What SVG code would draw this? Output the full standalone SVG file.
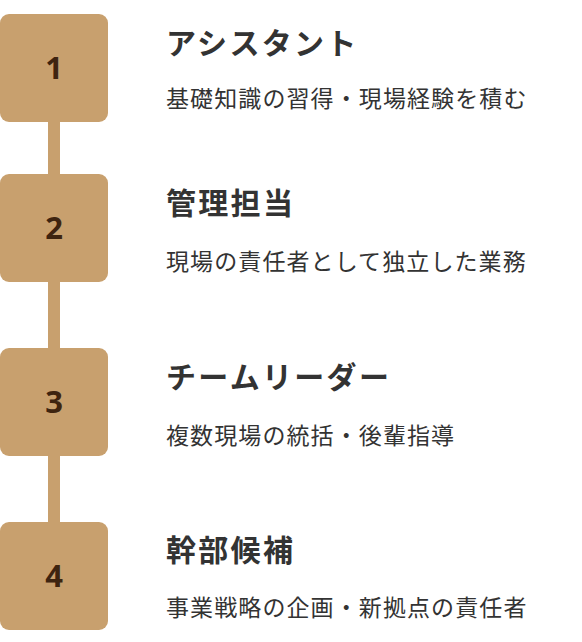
<svg xmlns="http://www.w3.org/2000/svg" width="582" height="642" viewBox="0 0 582 642">
<style>
.box{fill:#C8A06E}
.num{font-family:"Noto Sans","Noto Sans CJK JP",sans-serif;font-weight:700;font-size:31px;fill:#3E2410;text-anchor:middle}
.title{font-family:"Noto Sans CJK JP",sans-serif;font-weight:700;font-size:30px;letter-spacing:2.3px;fill:#333333}
.desc{font-family:"Noto Sans CJK JP",sans-serif;font-weight:400;font-size:23px;letter-spacing:1.1px;fill:#333333}
.conn{stroke:#C8A06E;stroke-width:12;fill:none}
</style>
<rect width="582" height="642" fill="#FFFFFF"/>
<g id="connectors">
<line class="conn" x1="54" y1="120" x2="54" y2="176"/>
<line class="conn" x1="54" y1="280" x2="54" y2="350"/>
<line class="conn" x1="54" y1="454" x2="54" y2="524"/>
</g>
<g id="step1">
<rect class="box" x="0" y="14" width="108" height="108" rx="9"/>
<text class="num" x="54" y="79">1</text>
<text class="title" x="166" y="54">アシスタント</text>
<text class="desc" x="166" y="107">基礎知識の習得・現場経験を積む</text>
</g>
<g id="step2">
<rect class="box" x="0" y="174" width="108" height="108" rx="9"/>
<text class="num" x="54" y="239">2</text>
<text class="title" x="166" y="214">管理担当</text>
<text class="desc" x="166" y="270">現場の責任者として独立した業務</text>
</g>
<g id="step3">
<rect class="box" x="0" y="348" width="108" height="108" rx="9"/>
<text class="num" x="54" y="413">3</text>
<text class="title" x="166" y="388">チームリーダー</text>
<text class="desc" x="166" y="444">複数現場の統括・後輩指導</text>
</g>
<g id="step4">
<rect class="box" x="0" y="522" width="108" height="108" rx="9"/>
<text class="num" x="54" y="587">4</text>
<text class="title" x="166" y="561">幹部候補</text>
<text class="desc" x="166" y="616">事業戦略の企画・新拠点の責任者</text>
</g>
</svg>
